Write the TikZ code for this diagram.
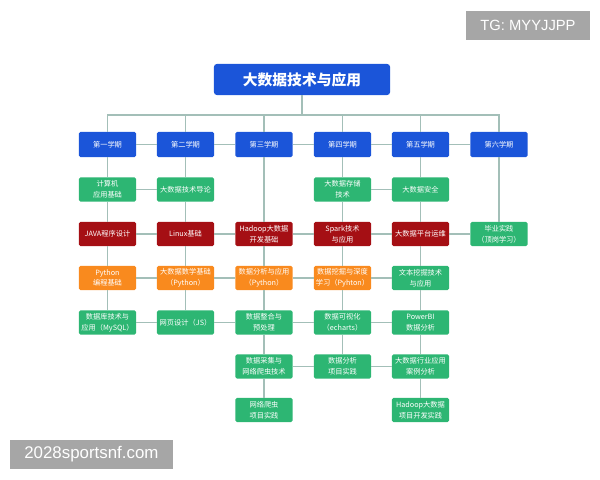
\documentclass[tikz,border=0pt]{standalone}
\usepackage{fontspec}
\usetikzlibrary{positioning}
\newfontfamily\cjk{Noto Sans CJK SC}
\newfontfamily\wmfont{Liberation Sans}
\definecolor{termblue}{HTML}{1B55D9}
\definecolor{basegreen}{HTML}{2DB673}
\definecolor{corered}{HTML}{A50F14}
\definecolor{progorange}{HTML}{F98A1E}
\definecolor{linkgray}{HTML}{A3BFB8}
\definecolor{markgray}{HTML}{A6A6A6}
\tikzset{
    every node/.style={rectangle, rounded corners=1pt, text=white, align=center,
    	inner sep=0pt, minimum width=1.425cm, minimum height=0.6cm,
    	font=\cjk\fontsize{5.15}{7.6}\selectfont}
}
\tikzset{term/.style={fill=termblue, minimum height=0.625cm}}
\tikzset{basic/.style={fill=basegreen}}
\tikzset{core/.style={fill=corered}}
\tikzset{prog/.style={fill=progorange}}
\tikzset{link/.style={draw=linkgray, line width=0.9pt}}
\tikzset{wmark/.style={fill=markgray, rounded corners=0pt, minimum height=0.725cm,
    	font=\wmfont\fontsize{12}{14}\selectfont}}

\begin{document}
\begin{tikzpicture}[x=0.025cm, y=-0.025cm]
	\useasboundingbox (0,0) rectangle (600,480);
	\node (top) [fill=termblue, rounded corners=2pt, minimum width=4.4cm, minimum height=0.775cm,
		font=\cjk\bfseries\fontsize{10.5}{12}\selectfont] at (302, 79.5) {大数据技术与应用};
	\coordinate (bus) at (302, 115);
	
	\node (s1) [term] at (107.5, 144.5) {第一学期};
	\node (s2) [term] at (185.5, 144.5) {第二学期};
	\node (s3) [term] at (264, 144.5) {第三学期};
	\node (s4) [term] at (342.5, 144.5) {第四学期};
	\node (s5) [term] at (420.5, 144.5) {第五学期};
	\node (s6) [term] at (499, 144.5) {第六学期};
	
	\node (c12) [basic] at (107.5, 189.5) {计算机\\应用基础};
	\node (c13) [core] at (107.5, 234) {JAVA程序设计};
	\node (c14) [prog] at (107.5, 278) {Python\\编程基础};
	\node (c15) [basic] at (107.5, 322.5) {数据库技术与\\应用（MySQL）};
	
	\node (c22) [basic] at (185.5, 189.5) {大数据技术导论};
	\node (c23) [core] at (185.5, 234) {Linux基础};
	\node (c24) [prog] at (185.5, 278) {大数据数学基础\\（Python）};
	\node (c25) [basic] at (185.5, 322.5) {网页设计（JS）};
	
	\node (c33) [core] at (264, 234) {Hadoop大数据\\开发基础};
	\node (c34) [prog] at (264, 278) {数据分析与应用\\（Python）};
	\node (c35) [basic] at (264, 322.5) {数据整合与\\预处理};
	\node (c36) [basic] at (264, 366.5) {数据采集与\\网络爬虫技术};
	\node (c37) [basic] at (264, 410) {网络爬虫\\项目实践};
	
	\node (c42) [basic] at (342.5, 189.5) {大数据存储\\技术};
	\node (c43) [core] at (342.5, 234) {Spark技术\\与应用};
	\node (c44) [prog] at (342.5, 278) {数据挖掘与深度\\学习（Pyhton）};
	\node (c45) [basic] at (342.5, 322.5) {数据可视化\\（echarts）};
	\node (c46) [basic] at (342.5, 366.5) {数据分析\\项目实践};
	
	\node (c52) [basic] at (420.5, 189.5) {大数据安全};
	\node (c53) [core] at (420.5, 234) {大数据平台运维};
	\node (c54) [basic] at (420.5, 278) {文本挖掘技术\\与应用};
	\node (c55) [basic] at (420.5, 322.5) {PowerBI\\数据分析};
	\node (c56) [basic] at (420.5, 366.5) {大数据行业应用\\案例分析};
	\node (c57) [basic] at (420.5, 410) {Hadoop大数据\\项目开发实践};
	
	\node (c63) [basic] at (499, 234) {毕业实践\\（顶岗学习）};
	
	\node (tg) [wmark, minimum width=3.1cm, font=\wmfont\fontsize{10.5}{12}\selectfont]
		at (528, 25.5) {TG: MYYJJPP};
	\node (site) [wmark, minimum width=4.07cm] at (91.4, 454.5) {2028sportsnf.com};
	
	% tree from the title to the terms
	\draw[link] (top) -- (bus);
	\draw[link] (s1) |- (bus); \draw[link] (s2) |- (bus); \draw[link] (s3) |- (bus);
	\draw[link] (s4) |- (bus); \draw[link] (s5) |- (bus); \draw[link] (s6) |- (bus);
	
	% columns
	\draw[link] (s1) edge (c12) (c12) edge (c13) (c13) edge (c14) (c14) edge (c15);
	\draw[link] (s2) edge (c22) (c22) edge (c23) (c23) edge (c24) (c24) edge (c25);
	\draw[link] (s3) edge (c33) (c33) edge (c34) (c34) edge (c35) (c35) edge (c36)
		(c36) edge (c37);
	\draw[link] (s4) edge (c42) (c42) edge (c43) (c43) edge (c44) (c44) edge (c45)
		(c45) edge (c46);
	\draw[link] (s5) edge (c52) (c52) edge (c53) (c53) edge (c54) (c54) edge (c55)
		(c55) edge (c56) (c56) edge (c57);
	\draw[link] (s6) edge (c63);
	
	% rows
	\draw[link] (s1) edge (s2) (s2) edge (s3) (s3) edge (s4) (s4) edge (s5) (s5) edge (s6);
	\draw[link] (c12) edge (c22) (c42) edge (c52);
	\draw[link] (c13) edge (c23) (c23) edge (c33) (c33) edge (c43) (c43) edge (c53)
		(c53) edge (c63);
	\draw[link] (c14) edge (c24) (c24) edge (c34) (c34) edge (c44) (c44) edge (c54);
	\draw[link] (c15) edge (c25) (c25) edge (c35) (c35) edge (c45) (c45) edge (c55);
	\draw[link] (c36) edge (c46) (c46) edge (c56);
\end{tikzpicture}
\end{document}
